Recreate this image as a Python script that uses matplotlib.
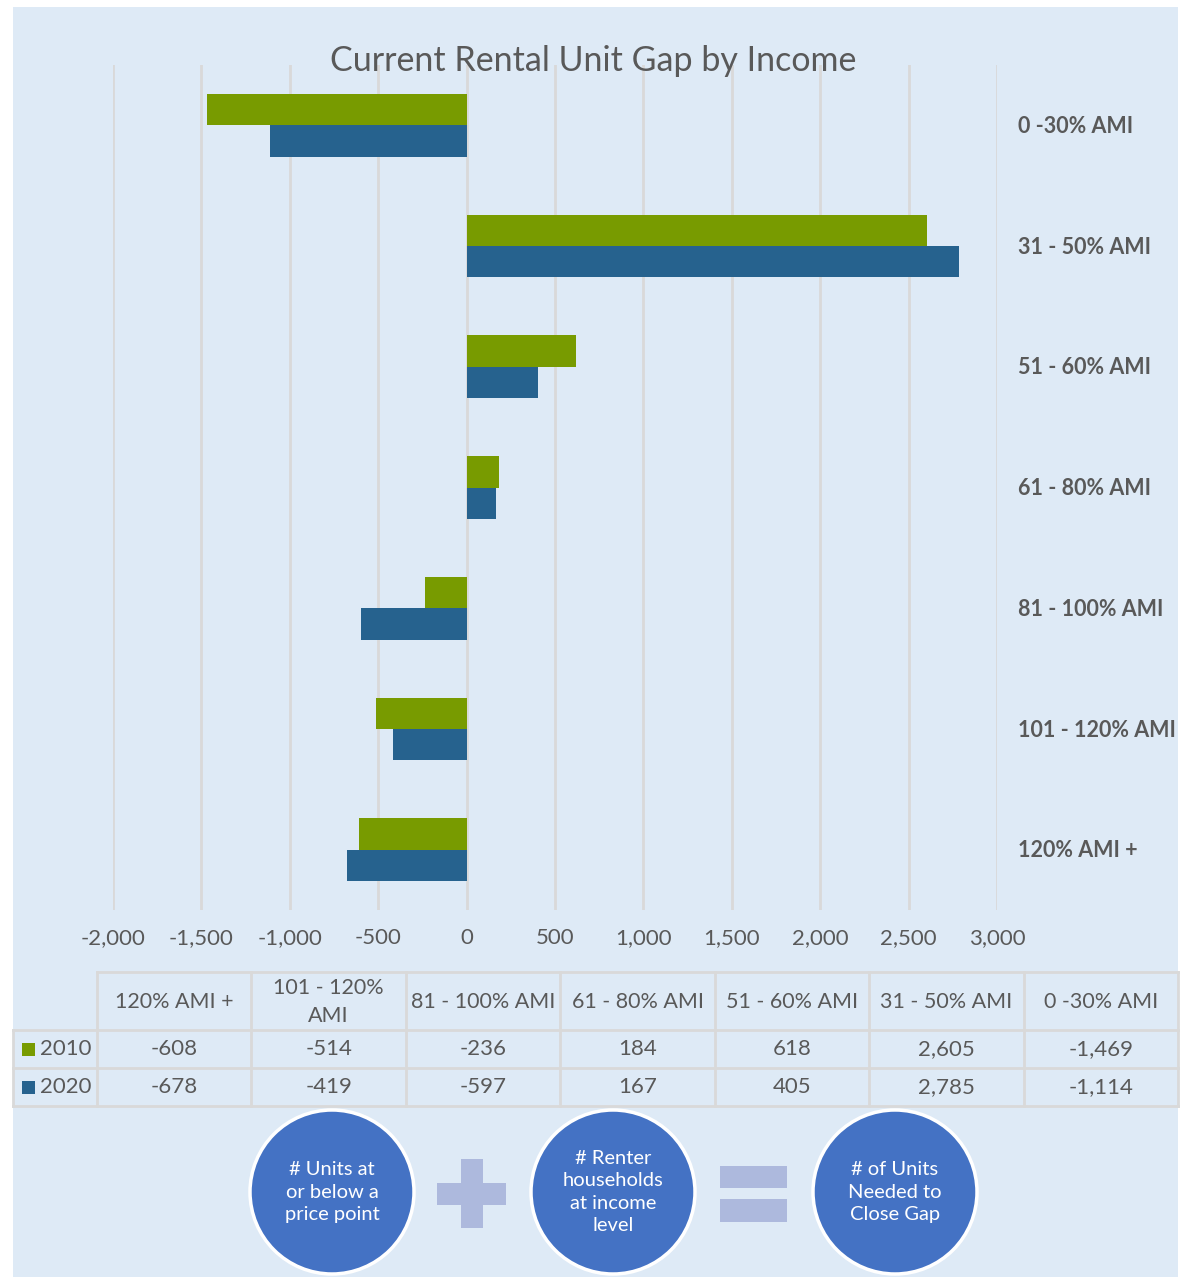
import matplotlib
matplotlib.use("Agg")
import matplotlib.pyplot as plt
from matplotlib.patches import Rectangle, Ellipse
from matplotlib import transforms

plt.rcParams['font.family'] = ['Lato', 'DejaVu Sans']

# Data (table order: highest income band first)
categories = ["120% AMI +", "101 - 120% AMI", "81 - 100% AMI", "61 - 80% AMI",
              "51 - 60% AMI", "31 - 50% AMI", "0 -30% AMI"]
header_labels = ["120% AMI +", "101 - 120%\nAMI", "81 - 100% AMI", "61 - 80% AMI",
                 "51 - 60% AMI", "31 - 50% AMI", "0 -30% AMI"]
gap_2010 = [-608, -514, -236, 184, 618, 2605, -1469]
gap_2020 = [-678, -419, -597, 167, 405, 2785, -1114]
series_names = ["2010", "2020"]
xticks = [-2000, -1500, -1000, -500, 0, 500, 1000, 1500, 2000, 2500, 3000]

GREEN = "#789B00"
BLUE = "#26628E"
TEXT = "#595959"
BG = "#DEEAF6"
GRID = "#D9D9D9"
CIRCLE = "#4472C4"
SYMBOL = "#ADB9DD"

W, H = 1188, 1278
fig = plt.figure(figsize=(W / 100, H / 100), dpi=100)
fig.patch.set_facecolor("white")


def fx(px):
    return px / W


def fy(py):
    return 1 - py / H


# Panel background
fig.patches.append(Rectangle((fx(13), fy(1277)), fx(1178) - fx(13), fy(7) - fy(1277),
                             transform=fig.transFigure, facecolor=BG, edgecolor="none",
                             zorder=-5))

# Bar chart
ax = fig.add_axes([fx(113), fy(910), fx(997) - fx(113), fy(65) - fy(910)])
ax.set_facecolor("none")
ypos = list(range(len(categories)))
bh = 0.26
ax.barh([y + bh / 2 for y in ypos], gap_2010, height=bh, color=GREEN, zorder=3)
ax.barh([y - bh / 2 for y in ypos], gap_2020, height=bh, color=BLUE, zorder=3)
ax.set_xlim(-2000, 3000)
ax.set_ylim(-0.5, len(categories) - 0.5)
ax.set_xticks(xticks)
ax.set_xticklabels([f"{v:,}" for v in xticks], fontsize=16, color=TEXT)
ax.tick_params(axis="x", length=0, pad=13)
ax.set_yticks([])
ax.grid(axis="x", color=GRID, linewidth=2, zorder=0)
for s in ax.spines.values():
    s.set_visible(False)

# Category labels on the right
trans = transforms.blended_transform_factory(fig.transFigure, ax.transData)
for y, lab in zip(ypos, categories):
    ax.text(fx(1018), y - 0.01, lab, transform=trans, ha="left", va="center",
            fontsize=15.5, fontweight="bold", color=TEXT)

fig.text(fx(593), fy(61), "Current Rental Unit Gap by Income", ha="center", va="center",
         fontsize=24.5, color=TEXT)

# Data table under the chart
col_edges = [97 + i * (1178 - 97) / 7 for i in range(8)]
row_edges = [972, 1030, 1068, 1106]
lw = 2


def hline(y, x0, x1):
    fig.add_artist(plt.Line2D([fx(x0), fx(x1)], [fy(y), fy(y)], color=GRID, lw=lw,
                              transform=fig.transFigure))


def vline(x, y0, y1):
    fig.add_artist(plt.Line2D([fx(x), fx(x)], [fy(y0), fy(y1)], color=GRID, lw=lw,
                              transform=fig.transFigure))


hline(row_edges[0], col_edges[0], col_edges[-1])
for y in row_edges[1:]:
    hline(y, 13, col_edges[-1])
for x in col_edges:
    vline(x, row_edges[0], row_edges[-1])
vline(13, row_edges[1], row_edges[-1])

for i, lab in enumerate(header_labels):
    cx = (col_edges[i] + col_edges[i + 1]) / 2
    fig.text(fx(cx), fy((row_edges[0] + row_edges[1]) / 2 + 1), lab, ha="center", va="center",
             fontsize=15.5, color=TEXT, linespacing=1.55)

for r, (name, vals, col) in enumerate(zip(series_names, [gap_2010, gap_2020], [GREEN, BLUE])):
    cy = (row_edges[r + 1] + row_edges[r + 2]) / 2
    fig.patches.append(Rectangle((fx(22), fy(cy + 7)), fx(13), fy(0) - fy(13),
                                 transform=fig.transFigure, facecolor=col, edgecolor="none"))
    fig.text(fx(40), fy(cy), name, ha="left", va="center", fontsize=16, color=TEXT)
    for i, v in enumerate(vals):
        cx = (col_edges[i] + col_edges[i + 1]) / 2
        fig.text(fx(cx), fy(cy), f"{v:,}", ha="center", va="center", fontsize=16, color=TEXT)

# Formula graphic: circles with plus and equals signs
circles = [(332, "# Units at\nor below a\nprice point"),
           (613, "# Renter\nhouseholds\nat income\nlevel"),
           (895, "# of Units\nNeeded to\nClose Gap")]
for cx, txt in circles:
    fig.patches.append(Ellipse((fx(cx), fy(1192)), fx(164), fy(0) - fy(164),
                               transform=fig.transFigure, facecolor=CIRCLE,
                               edgecolor="white", linewidth=2.5))
    fig.text(fx(cx), fy(1192), txt, ha="center", va="center", fontsize=14.5,
             color="white", linespacing=1.4)


def block(x0, y0, x1, y1):
    fig.patches.append(Rectangle((fx(x0), fy(y1)), fx(x1) - fx(x0), fy(y0) - fy(y1),
                                 transform=fig.transFigure, facecolor=SYMBOL, edgecolor="none"))


block(461, 1159, 483, 1228)
block(437, 1183, 506, 1205)
block(720, 1166, 787, 1188)
block(720, 1199, 787, 1222)

fig.savefig("out.png", dpi=100, facecolor="white")
